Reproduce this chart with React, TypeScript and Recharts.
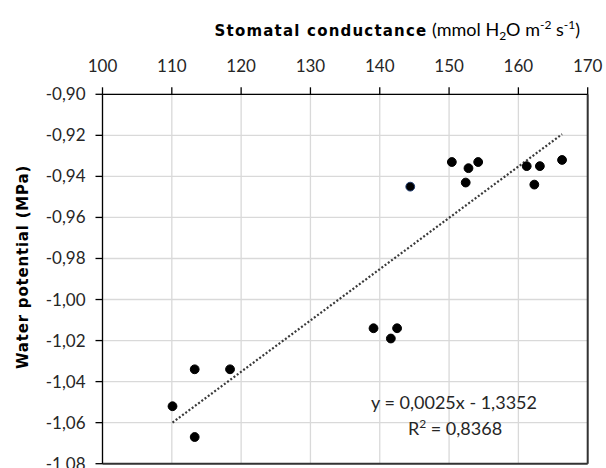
import React from "react";
import {
  ScatterChart,
  Scatter,
  XAxis,
  YAxis,
  CartesianGrid,
  ReferenceLine,
  Cell,
} from "recharts";

// Stomatal conductance (x) and water potential (y)
const conductance = [110.1, 113.3, 113.3, 118.4, 139.1, 141.6, 142.5, 144.4, 150.4, 152.4, 152.8, 154.2, 161.2, 162.3, 163.1, 166.3];
const waterPotential = [-1.052, -1.034, -1.067, -1.034, -1.014, -1.019, -1.014, -0.945, -0.933, -0.943, -0.936, -0.933, -0.935, -0.944, -0.935, -0.932];
const outlined = [false, false, false, false, false, false, false, true, false, false, false, false, false, false, false, false];

const xTicks = [100, 110, 120, 130, 140, 150, 160, 170];
const yTicks = [-0.9, -0.92, -0.94, -0.96, -0.98, -1.0, -1.02, -1.04, -1.06, -1.08];

// trendline coefficients as printed on the chart
const slope = 0.0025;
const intercept = -1.3352;
const equationText = "y = 0,0025x - 1,3352";
const r2Text = "0,8368";

const points = conductance.map((x, i) => ({ x, y: waterPotential[i] }));
const xMin = Math.min(...conductance);
const xMax = Math.max(...conductance);
const trend = [
  { x: xMin, y: slope * xMin + intercept },
  { x: xMax, y: slope * xMax + intercept },
];

const tickFont = "Lato, 'Open Sans', sans-serif";
const boldFont = "'DejaVu Sans', sans-serif";
const textColor = "#262626";

const fmtY = (v: number) => v.toFixed(2).replace(".", ",");

const XTick = (props: any) => {
  const { x, y, payload } = props;
  return (
    <text x={x} y={y - 13} textAnchor="middle" fontFamily={tickFont} fontSize={17} fill={textColor}>
      {payload.value}
    </text>
  );
};

const YTick = (props: any) => {
  const { x, y, payload } = props;
  return (
    <text x={x - 8} y={y} dy={6} textAnchor="end" fontFamily={tickFont} fontSize={17} fill={textColor}>
      {fmtY(payload.value)}
    </text>
  );
};

const Dot = (props: any) => {
  const { cx, cy, fill, stroke } = props;
  return <circle cx={cx} cy={cy} r={4.4} fill={fill} stroke={stroke} strokeWidth={1} />;
};

export default function App() {
  return (
    <div style={{ position: "absolute", left: 0, top: 0, width: 606, height: 468, overflow: "hidden", background: "#fff" }}>
      <ScatterChart
        width={606}
        height={480}
        margin={{ top: 64.3, right: 18.3, bottom: 16.3, left: 42.5 }}
      >
        <CartesianGrid stroke="#d9d9d9" strokeWidth={1.3} />
        <XAxis
          type="number"
          dataKey="x"
          orientation="top"
          domain={[100, 170]}
          ticks={xTicks}
          height={30}
          tickSize={7}
          axisLine={{ stroke: "#000", strokeWidth: 1.3 }}
          tickLine={{ stroke: "#000", strokeWidth: 1.3 }}
          tick={<XTick />}
          interval={0}
          allowDataOverflow
        />
        <YAxis
          type="number"
          dataKey="y"
          domain={[-1.08, -0.9]}
          ticks={yTicks}
          width={60}
          tickSize={7}
          axisLine={{ stroke: "#000", strokeWidth: 1.3 }}
          tickLine={{ stroke: "#000", strokeWidth: 1.3 }}
          tick={<YTick />}
          interval={0}
          allowDataOverflow
        />
        <ReferenceLine x={170} stroke="#333" strokeWidth={2} />
        <ReferenceLine y={-1.08} stroke="#333" strokeWidth={2} />
        <Scatter
          data={trend}
          isAnimationActive={false}
          line={{ stroke: "#3a3a3a", strokeWidth: 2.2, strokeDasharray: "2 2" }}
          shape={() => <g />}
        />
        <Scatter data={points} isAnimationActive={false} shape={<Dot />}>
          {points.map((_, i) => (
            <Cell key={i} fill="#000" stroke={outlined[i] ? "#1f3a6e" : "#000"} />
          ))}
        </Scatter>
      </ScatterChart>
      <svg width={606} height={468} style={{ position: "absolute", left: 0, top: 0, pointerEvents: "none" }}>
        <text x={580} y={36} textAnchor="end" fill="#000">
          <tspan fontFamily={boldFont} fontWeight="bold" fontSize={15} letterSpacing={1.2}>
            Stomatal conductance
          </tspan>
          <tspan fontFamily={tickFont} fontSize={18}> (mmol H</tspan>
          <tspan fontFamily={tickFont} fontSize={12} dy={4}>2</tspan>
          <tspan fontFamily={tickFont} fontSize={18} dy={-4}>O m</tspan>
          <tspan fontFamily={tickFont} fontSize={12} dy={-7}>-2</tspan>
          <tspan fontFamily={tickFont} fontSize={18} dy={7}> s</tspan>
          <tspan fontFamily={tickFont} fontSize={12} dy={-7}>-1</tspan>
          <tspan fontFamily={tickFont} fontSize={18} dy={7}>)</tspan>
        </text>
        <text
          transform="rotate(-90)"
          x={-267}
          y={28}
          textAnchor="middle"
          fontFamily={boldFont}
          fontWeight="bold"
          fontSize={15}
          letterSpacing={0.8}
          fill="#000"
        >
          Water potential (MPa)
        </text>
        <text x={454} y={409} textAnchor="middle" fontFamily={tickFont} fontSize={18} fill={textColor}>
          {equationText}
        </text>
        <text x={455} y={435} textAnchor="middle" fontFamily={tickFont} fontSize={18} fill={textColor}>
          R<tspan fontSize={12} dy={-7}>2</tspan>
          <tspan dy={7}> = {r2Text}</tspan>
        </text>
      </svg>
    </div>
  );
}
